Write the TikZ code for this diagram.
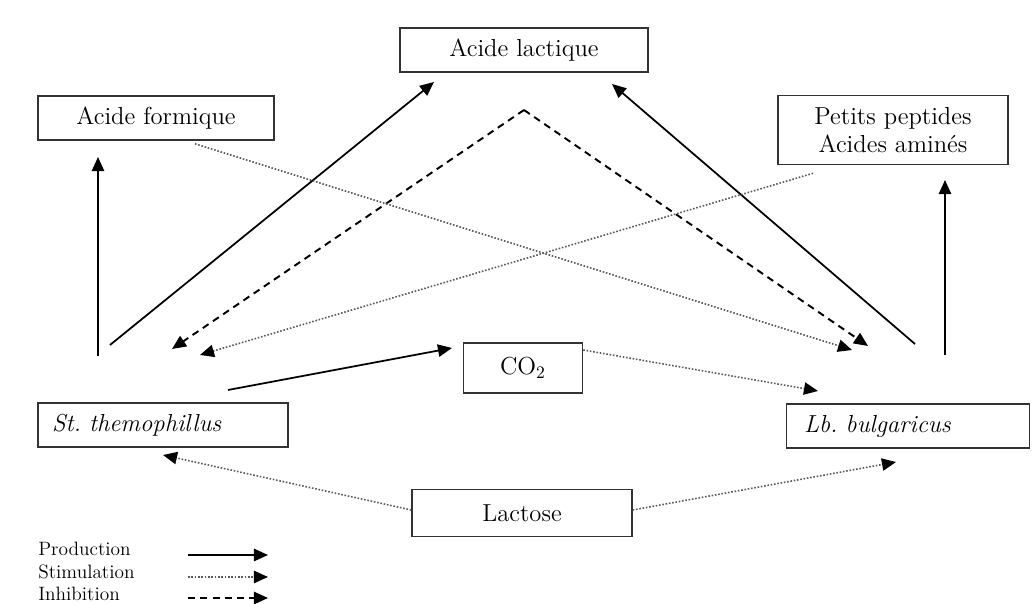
\documentclass[tikz,border=0pt]{standalone}
\usepackage{tikz}
\usetikzlibrary{arrows.meta}

\tikzset{
  box/.style={draw=black!80,line width=0.9pt,rectangle,minimum height=0.88cm,
    font=\fontsize{14}{16}\selectfont},
  tip/.style={-{Triangle[length=8pt,width=7pt,color=black]}},
  prod/.style={tip,line width=1pt},
  stim/.style={tip,black!65,line width=0.9pt,densely dotted},
  inhib/.style={tip,line width=1.1pt,dash pattern=on 4pt off 3pt},
  legend/.style={anchor=west,inner sep=0pt,font=\fontsize{11}{12}\selectfont}
}

\begin{document}
\begin{tikzpicture}[x=0.02cm,y=-0.02cm]
  \useasboundingbox[fill=white] (0,0) rectangle (1036,604);

  % boites
  \node[box,minimum width=4.96cm] (lac) at (524,50) {Acide lactique};
  \node[box,minimum width=4.72cm] (form) at (156,118) {Acide formique};
  \node[box,minimum width=4.6cm,minimum height=1.38cm,align=center] (pep) at (893,130)
    {Petits peptides\\Acides amin\'es};
  \node[box,minimum width=2.38cm,minimum height=1.0cm] (co2) at (523,368) {CO$_2$};
  \node[box,inner xsep=8pt,text width=4.44cm,align=left] (st) at (163,425)
    {\itshape St.\ themophillus};
  \node[box,inner xsep=10pt,text width=4.16cm,align=left] (lb) at (908,426)
    {\itshape Lb.\ bulgaricus};
  \node[box,minimum width=4.4cm,minimum height=0.94cm] (lact) at (522,513) {Lactose};

  % extremites libres
  \coordinate (stA) at (98,356);  \coordinate (formB) at (98,157);
  \coordinate (stC) at (110,345); \coordinate (lacL) at (434,82);
  \coordinate (lbC) at (915,344); \coordinate (lacR) at (612,84);
  \coordinate (lbA) at (945,355); \coordinate (pepB) at (945,180);
  \coordinate (stD) at (228,390); \coordinate (co2W) at (452,348);
  \coordinate (top) at (524,110);
  \coordinate (stI) at (172,349); \coordinate (lbI) at (868,346);
  \coordinate (stS) at (200,355); \coordinate (lbS) at (852,350);
  \coordinate (lbT) at (818,391); \coordinate (stL) at (163,455);
  \coordinate (lbL) at (896,462);

  % production
  \draw[prod] (stA) -- (formB);
  \draw[prod] (stC) -- (lacL);
  \draw[prod] (lbC) -- (lacR);
  \draw[prod] (lbA) -- (pepB);
  \draw[prod] (stD) -- (co2W);

  % inhibition
  \draw[inhib] (top) -- (stI);
  \draw[inhib] (top) -- (lbI);

  % stimulation
  \draw[stim] ([xshift=0.78cm,yshift=-0.06cm]form.south) -- (lbS);
  \draw[stim] ([xshift=-1.6cm,yshift=-0.16cm]pep.south) -- (stS);
  \draw[stim] ([yshift=0.36cm]co2.east) -- (lbT);
  \draw[stim] ([yshift=0.06cm]lact.west) -- (stL);
  \draw[stim] ([yshift=0.06cm]lact.east) -- (lbL);

  % legende
  \node[legend] (lp) at (38,549) {Production};
  \node[legend] (ls) at (38,572) {Stimulation};
  \node[legend] (li) at (38,594) {Inhibition};
  \coordinate (lp1) at (188,555); \coordinate (lp2) at (268,555);
  \coordinate (ls1) at (188,577); \coordinate (ls2) at (268,577);
  \coordinate (li1) at (188,598); \coordinate (li2) at (268,598);
  \draw[prod] (lp1) -- (lp2);
  \draw[stim] (ls1) -- (ls2);
  \draw[inhib] (li1) -- (li2);
\end{tikzpicture}
\end{document}
